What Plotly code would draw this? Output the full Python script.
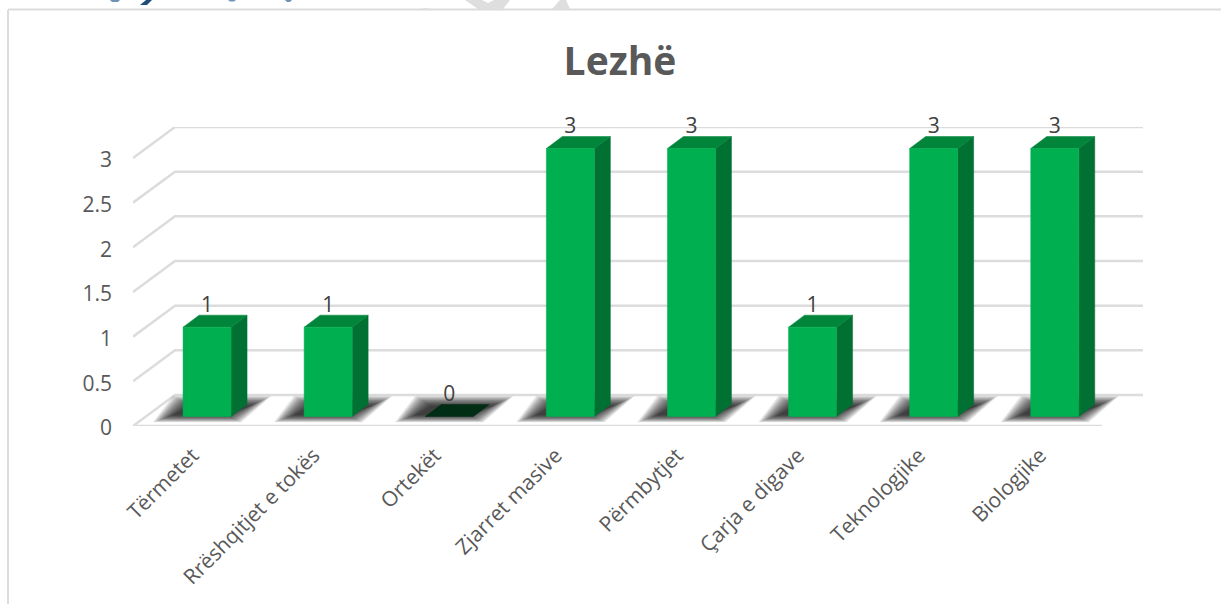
import plotly.graph_objects as go

# ---- data ----
categories = ["Tërmetet", "Rrëshqitjet e tokës", "Ortekët", "Zjarret masive",
              "Përmbytjet", "Çarja e digave", "Teknologjike", "Biologjike"]
values = [1, 1, 0, 3, 3, 1, 3, 3]
y_ticks = [0, 0.5, 1, 1.5, 2, 2.5, 3]
y_tick_labels = ["0", "0.5", "1", "1.5", "2", "2.5", "3"]
title_text = "Lezhë"

# ---- page geometry and style ----
W, H = 1221, 604
L, R, T, B = 133, 1143, 127, 426
PX_X = 121.1        # pixels per category
PX_Y = 268 / 3      # pixels per value unit
FONT = "Open Sans, Noto Sans, sans-serif"
GREY = "#595959"
GRID = "#dcdcdc"


def ux(px):
    return px / PX_X


def uy(px):
    return px / PX_Y


x0 = -0.5
x1 = x0 + ux(R - L)
y1 = uy(B - T)
wall_dx, wall_dy = ux(42), uy(31)
half = ux(24)
front_dx, front_dy = ux(13.5), uy(9.5)
side_dx, side_dy = ux(16), uy(12)


def paper_x(px):
    return (px - L) / (R - L)


def paper_y(py):
    return (B - py) / (B - T)


def paper_path(points):
    return "M" + " L".join(f"{paper_x(a):.5f},{paper_y(b):.5f}" for a, b in points) + " Z"


def polys(items):
    xs, ys = [], []
    for poly in items:
        xs += [p[0] for p in poly] + [poly[0][0], None]
        ys += [p[1] for p in poly] + [poly[0][1], None]
    return xs, ys


fig = go.Figure()

# gridlines on floor, side wall and back wall
for v in y_ticks:
    fig.add_trace(go.Scatter(
        x=[x0, x0 + wall_dx, x1], y=[v, v + wall_dy, v + wall_dy], mode="lines",
        line=dict(color=GRID, width=2.5), cliponaxis=False, hoverinfo="skip", showlegend=False))
fig.add_trace(go.Scatter(
    x=[x0, x0 + ux(1102 - L)], y=[0, 0], mode="lines",
    line=dict(color=GRID, width=2.5), cliponaxis=False, hoverinfo="skip", showlegend=False))

# soft floor shadows: stacked translucent parallelograms
layers = 18
for k in range(layers):
    g = (layers - 1 - k) * 1.2            # growth in pixels
    items = []
    for i, _ in enumerate(categories):
        cx = i + front_dx
        yb = uy(11 - g * 0.36)
        yt = uy(20 + g * 0.5)
        items.append([(cx + ux(-34 - g), yb), (cx + ux(18 + g * 0.8), yb),
                      (cx + ux(44 + g), yt), (cx + ux(-18 - g * 0.8), yt)])
    xs, ys = polys(items)
    fig.add_trace(go.Scatter(
        x=xs, y=ys, mode="lines", fill="toself", line=dict(width=0),
        fillcolor="rgba(0,0,0,0.07)", hoverinfo="skip", showlegend=False))

# bar faces
fronts, sides, tops, flats = [], [], [], []
for i, v in enumerate(values):
    l, r = i + front_dx - half, i + front_dx + half
    b, t = front_dy, front_dy + v
    top = [(l, t), (r, t), (r + side_dx, t + side_dy), (l + side_dx, t + side_dy)]
    if v == 0:
        flats.append(top)
        continue
    fronts.append([(l, b), (r, b), (r, t), (l, t)])
    sides.append([(r, b), (r + side_dx, b + side_dy), (r + side_dx, t + side_dy), (r, t)])
    tops.append(top)

for items, colour in ((flats, "#002d14"), (sides, "#007033"), (tops, "#00853b"), (fronts, "#00b050")):
    xs, ys = polys(items)
    fig.add_trace(go.Scatter(
        x=xs, y=ys, mode="lines", fill="toself", fillcolor=colour,
        line=dict(width=0.5, color=colour), hoverinfo="skip", showlegend=False))

# data labels
fig.add_trace(go.Scatter(
    x=[i + front_dx for i in range(len(values))],
    y=[v + front_dy + side_dy - uy(2) for v in values],
    mode="text", text=[str(v) for v in values], textposition="top center",
    textfont=dict(family=FONT, size=21, color="#404040"),
    cliponaxis=False, hoverinfo="skip", showlegend=False))

shapes = [
    # chart frame (left and top edges fall inside the page)
    dict(type="line", xref="paper", yref="paper", x0=paper_x(8), x1=paper_x(8),
         y0=paper_y(10), y1=paper_y(H), line=dict(color=GRID, width=2)),
    dict(type="line", xref="paper", yref="paper", x0=paper_x(8), x1=paper_x(W),
         y0=paper_y(9.5), y1=paper_y(9.5), line=dict(color=GRID, width=2)),
    # page watermark and heading remnants above the frame
    dict(type="path", xref="paper", yref="paper", line_width=0, fillcolor="#dedede",
         path=paper_path([(465, 0), (482, 0), (488, 3), (494, 0), (510, 0), (503, 9), (478, 9)])),
    dict(type="path", xref="paper", yref="paper", line_width=0, fillcolor="#dedede",
         path=paper_path([(560, 0), (566, 0), (570, 9), (552, 9)])),
    dict(type="path", xref="paper", yref="paper", line_width=0, fillcolor="#dedede",
         path=paper_path([(420, 9), (425, 8), (431, 9)])),
    dict(type="path", xref="paper", yref="paper", line_width=0, fillcolor="#1f4e79",
         path=paper_path([(146, 0), (152, 0), (147, 5), (140, 5)])),
    dict(type="path", xref="paper", yref="paper", line_width=0, fillcolor="#6f93b5",
         path=paper_path([(110, 0), (120, 0), (118, 2), (112, 2)])),
    dict(type="path", xref="paper", yref="paper", line_width=0, fillcolor="#6f93b5",
         path=paper_path([(228, 0), (236, 0), (234, 1.5), (230, 1.5)])),
    dict(type="path", xref="paper", yref="paper", line_width=0, fillcolor="#6f93b5",
         path=paper_path([(285, 0), (292, 0), (290, 2), (287, 2)])),
]

fig.update_layout(
    width=W, height=H, paper_bgcolor="white", plot_bgcolor="rgba(0,0,0,0)",
    margin=dict(l=L, r=W - R, t=T, b=H - B, pad=0),
    showlegend=False, shapes=shapes,
    title=dict(text=f"<b>{title_text}</b>", x=620 / W, xanchor="center", y=1 - 61 / H, yanchor="middle",
               font=dict(family=FONT, size=39, color=GREY)),
    xaxis=dict(range=[x0, x1], tickmode="array", tickvals=list(range(len(categories))),
               ticktext=categories, tickangle=-45, showgrid=False, zeroline=False, showline=False,
               ticks="", ticklabelstandoff=12, ticklabelshift=-1,
               tickfont=dict(family=FONT, size=21, color=GREY), fixedrange=True),
    yaxis=dict(range=[0, y1], tickmode="array", tickvals=y_ticks, ticktext=y_tick_labels,
               showgrid=False, zeroline=False, showline=False, ticks="", ticklabelstandoff=20,
               ticklabelshift=2,
               tickfont=dict(family=FONT, size=21, color=GREY), fixedrange=True),
)

fig.write_html("out.html", config={"displayModeBar": False},
               post_script="document.body.style.margin='0';document.documentElement.style.overflow='hidden';")
